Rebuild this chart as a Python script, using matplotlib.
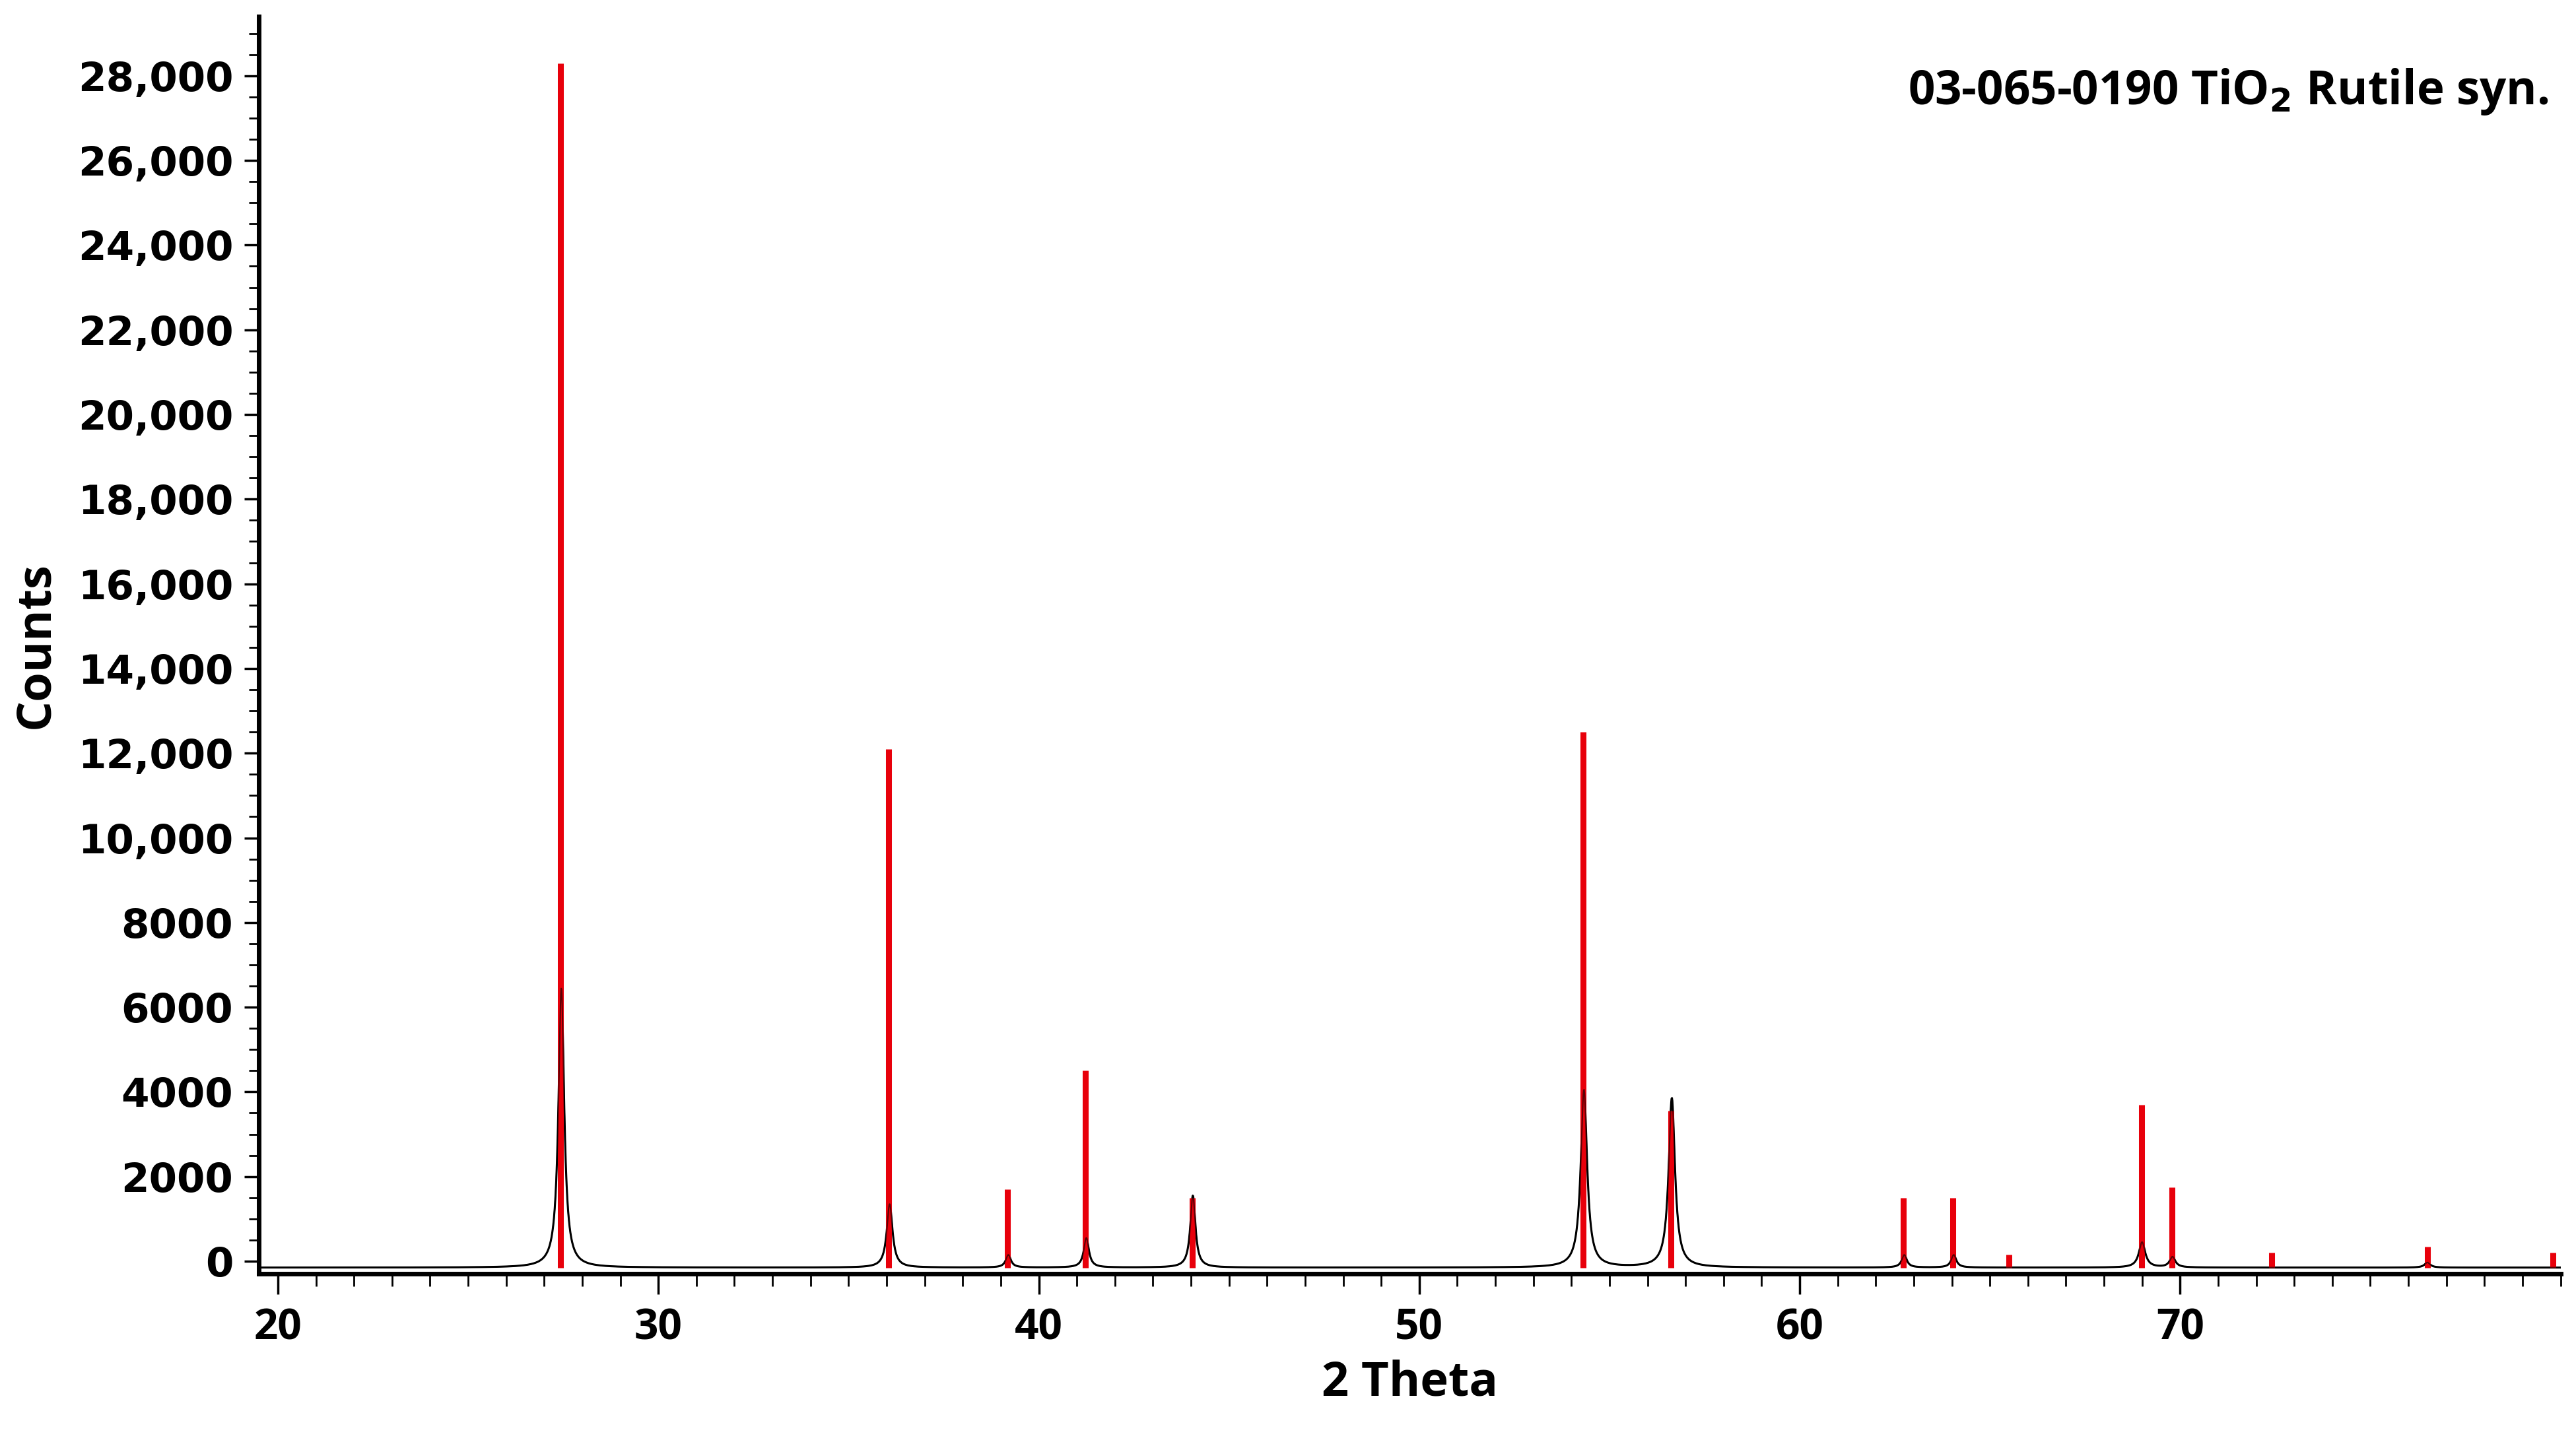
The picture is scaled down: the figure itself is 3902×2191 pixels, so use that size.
import numpy as np
import matplotlib
matplotlib.use("Agg")
import matplotlib.pyplot as plt
from matplotlib.ticker import MultipleLocator, FixedLocator, FuncFormatter

# Reference stick pattern (03-065-0190 TiO2 Rutile)
ref_pos = [27.42, 36.06, 39.18, 41.23, 44.03, 54.3, 56.62, 62.73, 64.03, 65.5, 68.98, 69.78, 72.4, 76.5, 79.8]
ref_cnt = [28300, 12100, 1700, 4500, 1500, 12500, 3550, 1500, 1500, 150, 3700, 1750, 200, 350, 200]

# Measured pattern peaks (position, height, width)
pk_pos = [27.45, 36.08, 39.2, 41.25, 44.05, 54.33, 56.64, 62.75, 64.05, 69.0, 69.8, 76.5]
pk_h   = [6600, 1500, 300, 700, 1700, 4200, 4000, 300, 300, 600, 250, 120]
pk_w   = [0.09, 0.09, 0.08, 0.08, 0.08, 0.1, 0.1, 0.08, 0.08, 0.1, 0.09, 0.09]
baseline = -150
x_ticks = [20, 30, 40, 50, 60, 70]

x = np.linspace(19.5, 80, 6000)
y = np.full_like(x, baseline, dtype=float)
for p, h, w in zip(pk_pos, pk_h, pk_w):
    y += h / (1 + ((x - p) / w) ** 2)

fig = plt.figure(figsize=(39.02, 21.91), dpi=100)
ax = fig.add_axes([0.1005, 0.119, 0.8935, 0.8696])
ax.plot(x, y, color="black", lw=2.2, zorder=2)
ax.vlines(ref_pos, baseline, ref_cnt, color="#e8000b", lw=6.5, zorder=3)
ax.plot(x, y, color="black", lw=1.5, alpha=0.6, zorder=4)

ax.set_xlim(19.5, 80)
ax.set_ylim(-300, 29400)
ax.xaxis.set_major_locator(FixedLocator(x_ticks))
ax.xaxis.set_minor_locator(MultipleLocator(1))
ax.yaxis.set_major_locator(MultipleLocator(2000))
ax.yaxis.set_minor_locator(MultipleLocator(500))
ax.yaxis.set_major_formatter(FuncFormatter(lambda v, p: f"{int(v):,}" if v >= 10000 else f"{int(v)}"))
for s in ["top", "right"]:
    ax.spines[s].set_visible(False)
for s in ["left", "bottom"]:
    ax.spines[s].set_linewidth(5)
ax.tick_params(axis="x", which="major", length=22, width=2.5, pad=14, labelsize=46)
ax.tick_params(axis="x", which="minor", length=14, width=2)
ax.tick_params(axis="y", which="major", length=16, width=2.5, pad=12, labelsize=44)
ax.tick_params(axis="y", which="minor", length=11, width=2)
for t in ax.get_yticklabels():
    t.set_fontweight("bold")
for t in ax.get_xticklabels():
    t.set_fontweight("bold"); t.set_family("Open Sans")
ax.set_xlabel("2 Theta", fontsize=52, fontweight="bold", family="Open Sans", labelpad=10)
ax.set_ylabel("Counts", fontsize=52, fontweight="bold", family="Open Sans", labelpad=20)
ax.text(0.995, 0.96, "03-065-0190 TiO$_\\mathbf{2}$ Rutile syn.", transform=ax.transAxes,
        ha="right", va="top", fontsize=51, fontweight="bold", family="Open Sans")
fig.savefig("out.png", dpi=100)
